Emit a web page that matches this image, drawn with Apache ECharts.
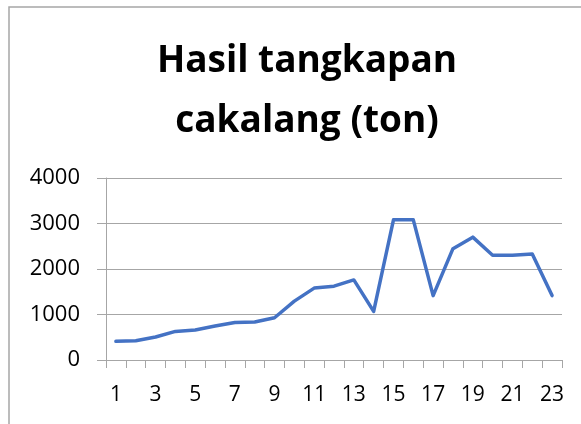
<!DOCTYPE html>
<html>
<head>
    <meta charset="utf-8">
    <title>Hasil tangkapan cakalang</title>
    <style type="text/css">
        html, body { margin: 0; padding: 0; background: #fff; }
        #page { width: 581px; height: 424px; }
    </style>
</head>
<body>
<div id="page"></div>
<script src="https://cdn.jsdelivr.net/npm/echarts@6/dist/echarts.min.js"></script>
<script>
    // 数据
    var categories = ['1', '2', '3', '4', '5', '6', '7', '8', '9', '10', '11', '12',
        '13', '14', '15', '16', '17', '18', '19', '20', '21', '22', '23'];
    var catchValues = [410, 424, 505, 629, 658, 746, 826, 834, 929, 1294, 1580, 1623,
        1760, 1068, 3080, 3080, 1415, 2447, 2700, 2302, 2302, 2330, 1415];
    var yTicks = [0, 1000, 2000, 3000, 4000];

    var font = 'Open Sans';
    var gray = '#a6a6a6';

    var myChart = echarts.init(document.getElementById('page'));
    var option = {
        animation: false,
        backgroundColor: '#fff',
        title: {
            text: 'Hasil tangkapan\ncakalang (ton)',
            left: 302,
            top: 26,
            textAlign: 'center',
            textStyle: {
                fontFamily: font,
                fontWeight: 'bold',
                fontSize: 37,
                lineHeight: 60,
                color: '#000'
            }
        },
        graphic: [{
            // 图表外框
            type: 'rect',
            shape: {x: 9, y: 7, width: 700, height: 600},
            style: {fill: 'none', stroke: gray, lineWidth: 1.5},
            silent: true
        }],
        grid: {left: 106, right: 19, top: 178, bottom: 64},
        xAxis: {
            type: 'category',
            data: categories,
            boundaryGap: true,
            axisLine: {lineStyle: {color: gray, width: 1}},
            axisTick: {show: true, interval: 0, length: 8, lineStyle: {color: gray}},
            axisLabel: {
                interval: 1,
                margin: 25,
                fontFamily: font,
                fontSize: 21,
                color: '#000'
            },
            splitLine: {show: false}
        },
        yAxis: {
            type: 'value',
            min: yTicks[0],
            max: yTicks[yTicks.length - 1],
            interval: 1000,
            axisLine: {show: true, lineStyle: {color: gray, width: 1}},
            axisTick: {show: true, length: 9, lineStyle: {color: gray}},
            axisLabel: {
                margin: 26,
                fontFamily: font,
                fontSize: 22,
                color: '#000',
                formatter: function (v) {
                    return String(v);
                }
            },
            splitLine: {show: true, lineStyle: {color: gray, width: 1}}
        },
        series: [{
            type: 'line',
            data: catchValues,
            symbol: 'none',
            lineStyle: {color: '#4472c4', width: 3.5, join: 'round', cap: 'round'}
        }]
    };
    myChart.setOption(option);
</script>
</body>
</html>
